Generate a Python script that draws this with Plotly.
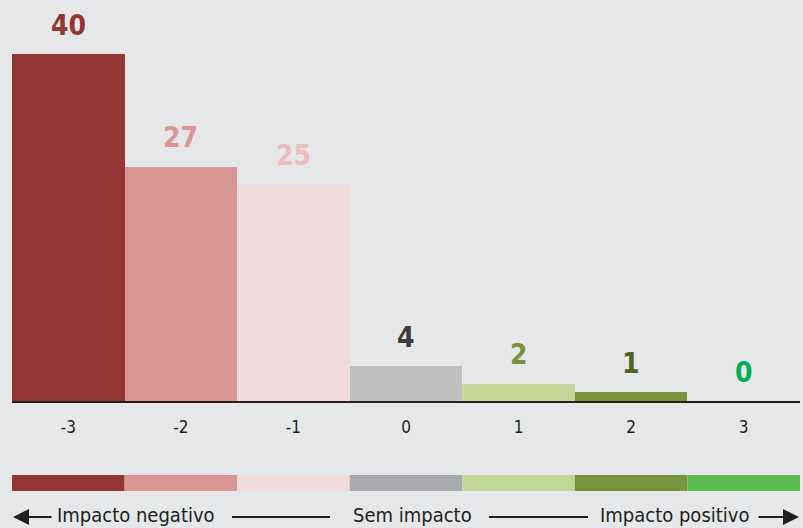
import plotly.graph_objects as go

categories = ["-3", "-2", "-1", "0", "1", "2", "3"]
values = [40, 27, 25, 4, 2, 1, 0]
bar_colors = ["#933634", "#DA9694", "#F2DCDB", "#BFBFBF", "#C4D79B", "#77933C", "#00B050"]
label_colors = ["#933634", "#DA9694", "#EDBDBB", "#3C3C3C", "#76933C", "#4F6228", "#00B050"]
strip_colors = ["#933634", "#DA9694", "#F2DCDB", "#A9AAAD", "#C4D79B", "#77933C", "#5CBB50"]
legend_texts = ["Impacto negativo", "Sem impacto", "Impacto positivo"]

FONT = "DejaVu Sans Condensed, Roboto Condensed, Liberation Sans Narrow, Roboto, sans-serif"
BG = "#E6E7E9"

fig = go.Figure()
fig.add_trace(go.Bar(
    x=categories, y=values,
    marker=dict(color=bar_colors, line=dict(width=0)),
    width=1.0, hoverinfo="skip",
))

W, H = 803, 528
ml, mr, mt, mb = 12, 3, 20, 127
pw = W - ml - mr
ph = H - mt - mb
base_px = H - mb

def py(px_y):
    return (base_px - px_y) / ph

def px(px_x):
    return (px_x - ml) / pw

annotations = []
for i, (v, col) in enumerate(zip(values, label_colors)):
    annotations.append(dict(
        x=i, y=v, xref="x", yref="y", text=f"<b>{v}</b>", showarrow=False,
        yshift=29, font=dict(family=FONT, size=28, color=col),
    ))

shapes = []
for i, col in enumerate(strip_colors):
    shapes.append(dict(
        type="rect", xref="x", yref="paper",
        x0=i - 0.5, x1=i + 0.5, y0=py(491), y1=py(475),
        fillcolor=col, line=dict(width=0), layer="above",
    ))

yl = py(517)
yt = py(515)
text_font = dict(family=FONT, size=20, color="#231F20")
annotations.append(dict(x=px(55), y=yt, xref="paper", yref="paper", text=legend_texts[0],
                        showarrow=False, xanchor="left", yanchor="middle", font=text_font))
annotations.append(dict(x=px(412), y=yt, xref="paper", yref="paper", text=legend_texts[1],
                        showarrow=False, xanchor="center", yanchor="middle", font=text_font))
annotations.append(dict(x=px(751), y=yt, xref="paper", yref="paper", text=legend_texts[2],
                        showarrow=False, xanchor="right", yanchor="middle", font=text_font))
# arrows
annotations.append(dict(x=px(13), y=yl, xref="paper", yref="paper", ax=40, ay=0,
                        axref="pixel", ayref="pixel", text="", showarrow=True,
                        arrowhead=2, arrowsize=1.6, arrowwidth=2, arrowcolor="#231F20"))
annotations.append(dict(x=px(799), y=yl, xref="paper", yref="paper", ax=-42, ay=0,
                        axref="pixel", ayref="pixel", text="", showarrow=True,
                        arrowhead=2, arrowsize=1.6, arrowwidth=2, arrowcolor="#231F20"))
for x0, x1 in [(232, 330), (489, 588)]:
    shapes.append(dict(type="line", xref="paper", yref="paper", x0=px(x0), x1=px(x1),
                       y0=yl, y1=yl, line=dict(color="#231F20", width=2)))

fig.update_layout(
    width=W, height=H,
    margin=dict(l=ml, r=mr, t=mt, b=mb, pad=0),
    paper_bgcolor=BG, plot_bgcolor=BG,
    showlegend=False, bargap=0,
    annotations=annotations, shapes=shapes,
    xaxis=dict(
        type="category", showgrid=False, zeroline=False,
        showline=True, linecolor="#231F20", linewidth=1.5,
        ticks="outside", ticklen=10, tickcolor=BG,
        tickfont=dict(family=FONT, size=17, color="#231F20"),
        range=[-0.5, 6.5],
    ),
    yaxis=dict(visible=False, range=[0, ph / 8.675], fixedrange=True),
)

fig.write_html("out.html", config={"displayModeBar": False},
               post_script="document.body.style.margin='0';document.body.style.background='%s';" % BG)
